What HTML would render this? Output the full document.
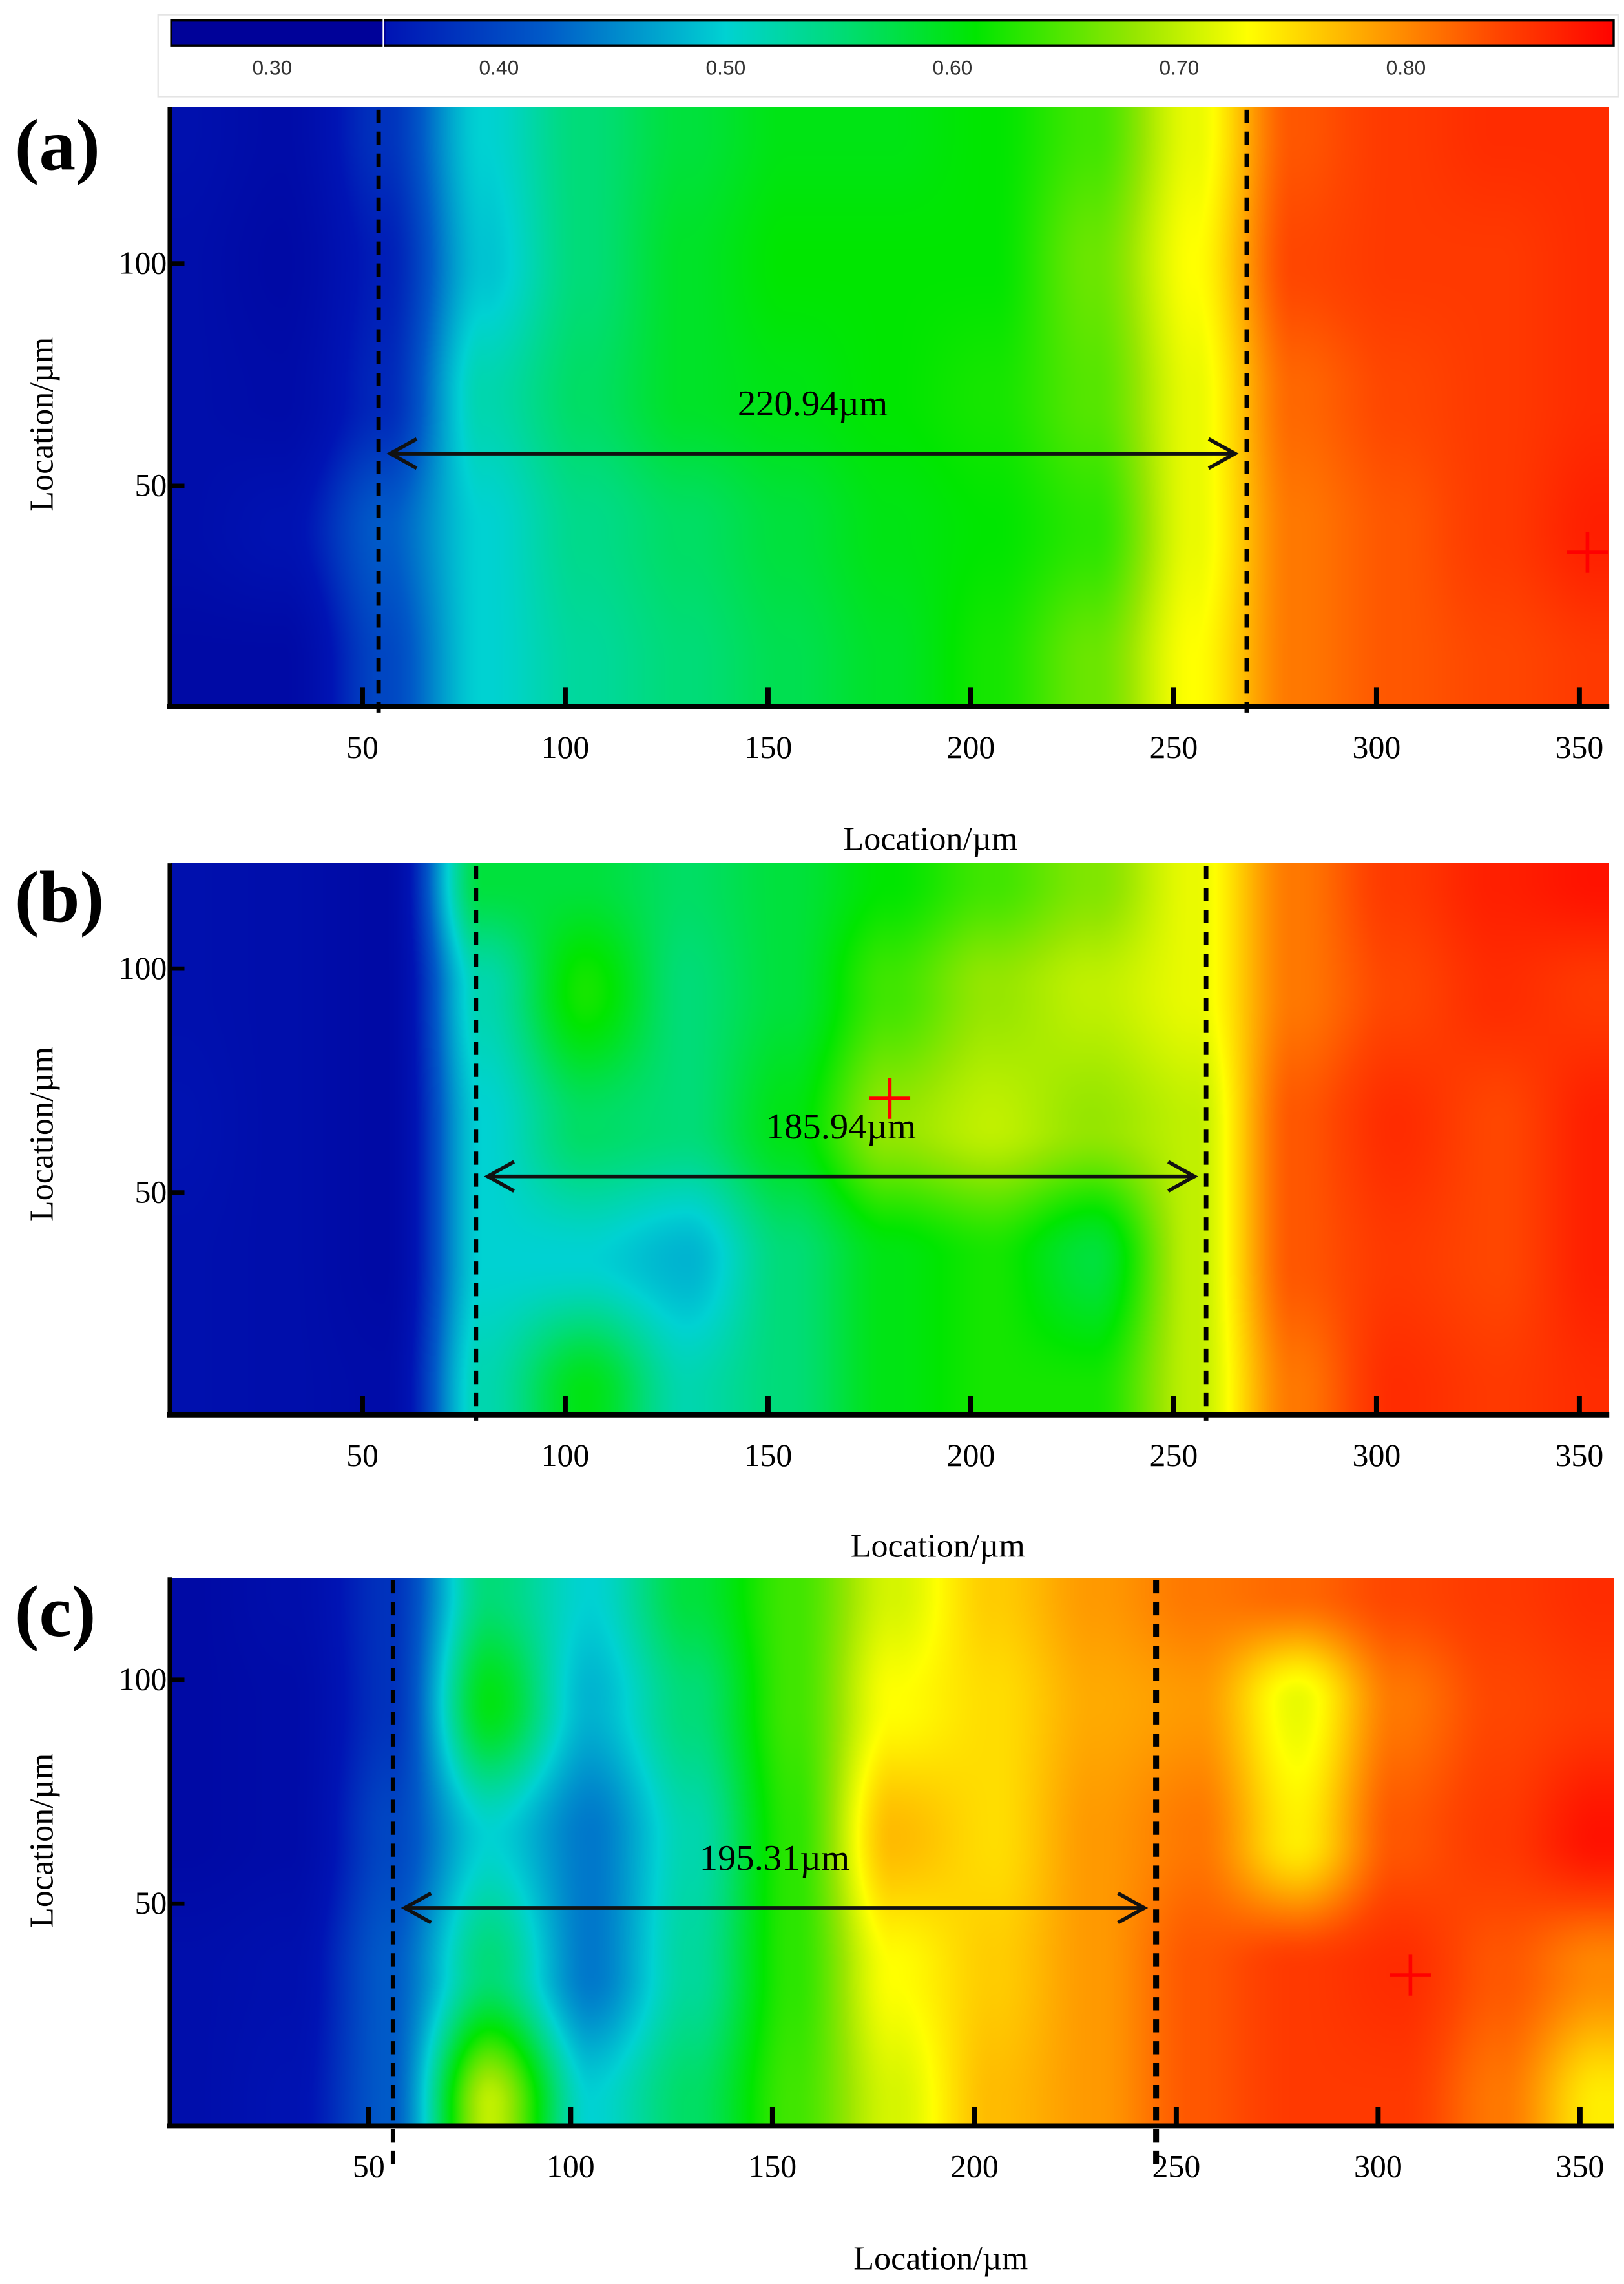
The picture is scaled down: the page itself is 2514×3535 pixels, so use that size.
<!DOCTYPE html>
<html><head><meta charset="utf-8">
<style>
html,body{margin:0;padding:0;background:#fff;}
#wrap{position:relative;width:2514px;height:3535px;overflow:hidden;background:#fff;}
canvas{position:absolute;}
svg{position:absolute;left:0;top:0;}
text{font-family:"Liberation Serif",serif;}
</style></head>
<body>
<div id="wrap">
<canvas id="cbar"></canvas>
<canvas id="ha"></canvas>
<canvas id="hb"></canvas>
<canvas id="hc"></canvas>
<svg id="ov" width="2514" height="3535" viewBox="0 0 1110 1561"></svg>
</div>
<script>
// ---- data ----
const xCols = [5,30,55,80,105,130,155,180,205,230,255,280,305,330,355];
const yRowsA = [130,100,70,40,10];
const yRowsBC = [120,95,65,35,5];
const valuesA = [
 [.33,.31,.38,.50,.55,.58,.60,.60,.61,.64,.72,.83,.85,.86,.86],
 [.32,.30,.36,.49,.55,.59,.61,.61,.61,.66,.73,.84,.85,.85,.86],
 [.32,.31,.37,.52,.56,.59,.60,.61,.62,.65,.72,.82,.84,.85,.86],
 [.32,.34,.42,.50,.54,.56,.58,.60,.61,.63,.72,.81,.83,.85,.87],
 [.30,.30,.40,.50,.53,.55,.57,.59,.62,.66,.73,.81,.83,.84,.85]];
const valuesB = [
 [.33,.32,.30,.58,.58,.56,.58,.61,.64,.67,.72,.81,.85,.87,.88],
 [.33,.32,.30,.52,.62,.55,.58,.64,.68,.70,.72,.81,.84,.86,.85],
 [.34,.32,.30,.50,.56,.55,.60,.68,.70,.68,.70,.83,.86,.84,.87],
 [.33,.32,.30,.50,.50,.48,.55,.60,.62,.58,.70,.83,.85,.84,.87],
 [.33,.32,.31,.52,.60,.52,.55,.60,.62,.62,.70,.81,.86,.85,.86]];
const valuesC = [
 [.30,.32,.38,.55,.50,.58,.64,.71,.76,.79,.81,.82,.84,.85,.86],
 [.30,.31,.38,.60,.48,.55,.64,.73,.75,.78,.79,.72,.81,.84,.85],
 [.30,.31,.40,.50,.44,.52,.63,.77,.75,.79,.81,.74,.83,.85,.88],
 [.32,.33,.42,.55,.44,.53,.63,.73,.76,.79,.83,.85,.86,.83,.80],
 [.32,.34,.42,.70,.50,.56,.64,.71,.77,.79,.83,.85,.85,.81,.74]];
const xTicks = [50,100,150,200,250,300,350];
const yTicks = [50,100];
const cbTicks = [0.30,0.40,0.50,0.60,0.70,0.80];
const widthsLabel = ["220.94µm","185.94µm","195.31µm"];
const boundA = [54,268], boundB = [78,258], boundC = [56,245];
const markers = [[352,35],[180,71],[308,34]];

const S = 2514/1110;
const stops = [[0.25,[0,0,150]],[0.35,[0,20,180]],[0.42,[0,90,200]],[0.50,[0,210,210]],[0.55,[0,220,120]],[0.61,[0,230,0]],[0.68,[150,230,0]],[0.73,[255,255,0]],[0.78,[255,170,0]],[0.84,[255,70,0]],[0.89,[255,5,0]]];
function cmap(v){
  if(v<=stops[0][0]) return stops[0][1];
  for(let i=1;i<stops.length;i++){ if(v<=stops[i][0]){const a=stops[i-1],b=stops[i];const t=(v-a[0])/(b[0]-a[0]);return a[1].map((c,k)=>c+(b[1][k]-c)*t);} }
  return stops[stops.length-1][1];
}
function interp1(arr,v){
  if(arr[0]<arr[arr.length-1]){ if(v<=arr[0])return[0,0]; for(let i=1;i<arr.length;i++) if(v<=arr[i]) return [i-1,(v-arr[i-1])/(arr[i]-arr[i-1])]; return [arr.length-2,1];}
  else { if(v>=arr[0])return[0,0]; for(let i=1;i<arr.length;i++) if(v>=arr[i]) return [i-1,(arr[i-1]-v)/(arr[i-1]-arr[i])]; return [arr.length-2,1];}
}
const sm=t=>t*t*(3-2*t);
function sample(vals,rows,x,y){
  const [i,tx]=interp1(xCols,x), [j,ty]=interp1(rows,y);
  const a=sm(tx), b=sm(ty);
  const v00=vals[j][i],v01=vals[j][i+1],v10=vals[j+1][i],v11=vals[j+1][i+1];
  return (v00*(1-a)+v01*a)*(1-b)+(v10*(1-a)+v11*a)*b;
}
const panels=[
 {id:'ha',vals:valuesA,rows:yRowsA,x0:109,xs:2.773,y0:484,ys:3.04,top:73,bot:482,left:117,right:1100,lab:'(a)',labY:98,bound:boundA,arrowY:310,xlabX:636,xlabY:574,ylabY:290},
 {id:'hb',vals:valuesB,rows:yRowsBC,x0:109,xs:2.773,y0:968,ys:3.06,top:590,bot:966,left:117,right:1100,lab:'(b)',labY:612,bound:boundB,arrowY:804,xlabX:641,xlabY:1057,ylabY:775},
 {id:'hc',vals:valuesC,rows:yRowsBC,x0:114,xs:2.76,y0:1454,ys:3.06,top:1078,bot:1452,left:117,right:1103,lab:'(c)',labY:1100,bound:boundC,arrowY:1304,xlabX:643,xlabY:1544,ylabY:1258}];

function drawHeat(p){
  const c=document.getElementById(p.id);
  const W=Math.round((p.right-p.left)*S/2), H=Math.round((p.bot-p.top)*S/2);
  c.width=W;c.height=H;
  c.style.left=(p.left*S)+'px';c.style.top=(p.top*S)+'px';
  c.style.width=((p.right-p.left)*S)+'px';c.style.height=((p.bot-p.top)*S)+'px';
  const ctx=c.getContext('2d');const im=ctx.createImageData(W,H);
  for(let py=0;py<H;py++){const dy=p.top+(py+.5)/H*(p.bot-p.top);const yu=(p.y0-dy)/p.ys;
    for(let px=0;px<W;px++){const dx=p.left+(px+.5)/W*(p.right-p.left);const xu=(dx-p.x0)/p.xs;
      const col=cmap(sample(p.vals,p.rows,xu,yu));const k=(py*W+px)*4;
      im.data[k]=col[0];im.data[k+1]=col[1];im.data[k+2]=col[2];im.data[k+3]=255;}}
  ctx.putImageData(im,0,0);
}
panels.forEach(drawHeat);

(function(){const c=document.getElementById('cbar');const L=117,R=1103,T=14,B=31;
 const W=Math.round((R-L)*S);c.width=W;c.height=10;c.style.left=(L*S)+'px';c.style.top=(T*S)+'px';c.style.width=W+'px';c.style.height=((B-T)*S)+'px';
 const ctx=c.getContext('2d');for(let x=0;x<W;x++){const d=L+x/W*(R-L);const v=0.30+(d-186)/1550;const col=cmap(v<0.35?0.26:v);ctx.fillStyle=`rgb(${col.map(Math.round).join(',')})`;ctx.fillRect(x,0,1,10);}})();

const NS='http://www.w3.org/2000/svg';const svg=document.getElementById('ov');
function el(tag,attrs,text){const e=document.createElementNS(NS,tag);for(const k in attrs)e.setAttribute(k,attrs[k]);if(text!==undefined)e.textContent=text;svg.appendChild(e);return e;}

let e=el('rect',{x:108,y:10,width:998,height:56,fill:'none',stroke:'#e4e4e4','stroke-width':1});

e=el('rect',{x:117,y:14,width:986,height:17,fill:'none',stroke:'#000','stroke-width':1.5});

e=el('line',{x1:262,y1:13,x2:262,y2:32,stroke:'#fff','stroke-width':1});

cbTicks.forEach(v=>{const t=el('text',{x:186+(v-0.30)*1550,y:51,'font-size':14,'text-anchor':'middle',fill:'#333',style:'font-family:"Liberation Sans",sans-serif'},v.toFixed(2));
 });

panels.forEach((p,pi)=>{
 const X=u=>p.x0+p.xs*u, Y=u=>p.y0-p.ys*u;
 e=el('line',{x1:116,y1:p.top,x2:116,y2:p.bot+1,stroke:'#000','stroke-width':3});
 
 e=el('line',{x1:114,y1:p.bot+1,x2:p.right,y2:p.bot+1,stroke:'#000','stroke-width':3.5});
 
 xTicks.forEach(v=>{
  e=el('line',{x1:X(v),y1:p.bot-12,x2:X(v),y2:p.bot,stroke:'#000','stroke-width':3.5});
  
  e=el('text',{x:X(v),y:p.bot+36,'font-size':22,'text-anchor':'middle'},String(v));
  
 });
 yTicks.forEach(v=>{
  e=el('line',{x1:116,y1:Y(v),x2:126,y2:Y(v),stroke:'#000','stroke-width':3});
  
  e=el('text',{x:114,y:Y(v)+7,'font-size':22,'text-anchor':'end'},String(v));
  
 });
 e=el('text',{x:p.xlabX,y:p.xlabY+7,'font-size':23,'text-anchor':'middle'},'Location/µm');
 
 e=el('text',{x:0,y:0,'font-size':23,'text-anchor':'middle',transform:`translate(36,${p.ylabY}) rotate(-90)`},'Location/µm');
 
 e=el('text',{x:10,y:p.labY+18,'font-size':50,'font-weight':'bold'},p.lab);
 
 p.bound.forEach((b,bi)=>{
  e=el('line',{x1:X(b),y1:p.top+2,x2:X(b),y2:p.bot+(pi===2?30:5),stroke:'#000','stroke-width':(pi===2&&bi===1)?4:3,'stroke-dasharray':'9,6'});
  
 });
 const ax1=X(p.bound[0])+8, ax2=X(p.bound[1])-8, ay=p.arrowY;
 e=el('path',{d:`M${ax1} ${ay} L${ax2} ${ay} M${ax1+18} ${ay-10} L${ax1} ${ay} L${ax1+18} ${ay+10} M${ax2-18} ${ay-10} L${ax2} ${ay} L${ax2-18} ${ay+10}`,stroke:'#111','stroke-width':2.5,fill:'none'});
 
 e=el('text',{x:(ax1+ax2)/2,y:ay-26,'font-size':25,'text-anchor':'middle'},widthsLabel[pi]);
 
 const mx=X(markers[pi][0]), my=Y(markers[pi][1]);
 e=el('path',{d:`M${mx-14} ${my} L${mx+14} ${my} M${mx} ${my-14} L${mx} ${my+14}`,stroke:'#f00','stroke-width':2.5});
 
});
</script>
</body></html>
